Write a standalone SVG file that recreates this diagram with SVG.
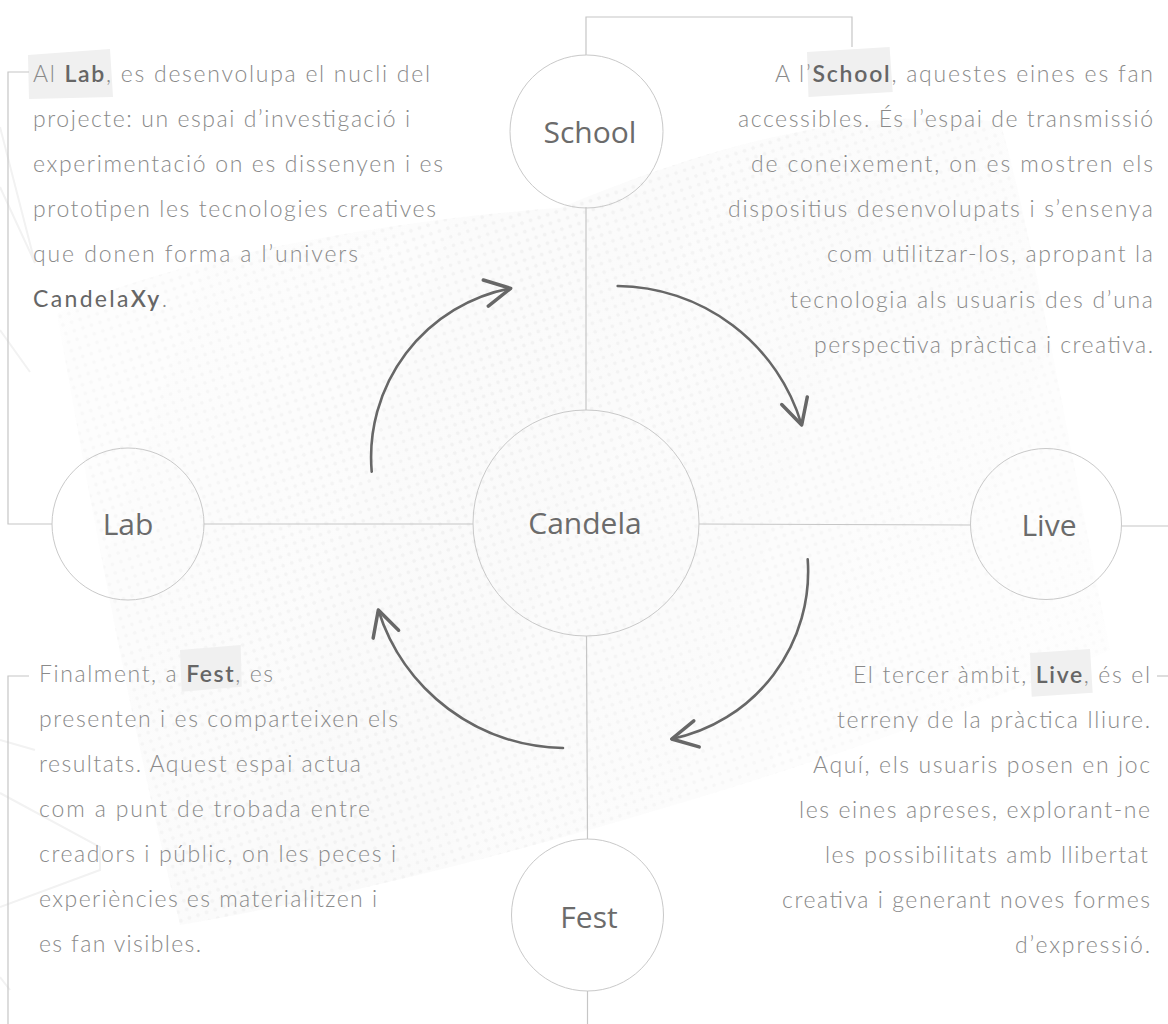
<svg xmlns="http://www.w3.org/2000/svg" width="1168" height="1024" viewBox="0 0 1168 1024">
<defs>
<style>
.body{font-family:"Lato","Open Sans","Liberation Sans",sans-serif;font-weight:300;font-size:23px;fill:#8a8a8a}
.kw{font-weight:600;fill:#666}
.dk{fill:#666;font-weight:400}
.node circle{fill:none;stroke:#c9c9c9;stroke-width:1}
.node text{font-family:"Open Sans","Liberation Sans",sans-serif;font-size:30px;fill:#6b6b6b;text-anchor:middle}
.conn{fill:none;stroke:#c6c6c6;stroke-width:1.2}
.arr{fill:none;stroke:#676767;stroke-width:2.6;stroke-linecap:round}
.hl{fill:#f0f0f0}
.deco{fill:none;stroke:#f2f2f2;stroke-width:2}
</style>
<pattern id="dots" width="9" height="9" patternUnits="userSpaceOnUse" patternTransform="rotate(-18)">
<circle cx="4.5" cy="4.5" r="1.9" fill="#eeeeee"/>
</pattern>
<linearGradient id="bg" x1="0" y1="0" x2="1" y2="1">
<stop offset="0" stop-color="#fcfcfc"/>
<stop offset="0.6" stop-color="#fafafa"/>
<stop offset="1" stop-color="#fdfdfd"/>
</linearGradient>
<linearGradient id="fade" x1="0" y1="0" x2="1" y2="0.3">
<stop offset="0" stop-color="#fff" stop-opacity="0.3"/>
<stop offset="0.5" stop-color="#fff" stop-opacity="1"/>
<stop offset="1" stop-color="#fff" stop-opacity="0.4"/>
</linearGradient>
<mask id="m">
<rect width="1168" height="1024" fill="url(#fade)"/>
</mask>
<marker id="ah" markerUnits="userSpaceOnUse" markerWidth="40" markerHeight="40" viewBox="-25 -15 30 30" refX="0" refY="0" orient="auto" overflow="visible">
<path d="M-19,-10 L0,0 L-19,10" fill="none" stroke="#676767" stroke-width="2.6" stroke-linecap="round" stroke-linejoin="round"/>
</marker>
</defs>
<rect width="1168" height="1024" fill="#ffffff"/>
<g id="background" mask="url(#m)">
<path d="M57 314 C150 262 400 218 560 208 C700 150 850 104 1000 122 C1030 220 1080 500 1110 650 C900 742 500 870 180 925 C130 720 90 500 57 314 Z" fill="url(#bg)"/>
<path d="M57 314 C150 262 400 218 560 208 C700 150 850 104 1000 122 C1030 220 1080 500 1110 650 C900 742 500 870 180 925 C130 720 90 500 57 314 Z" fill="url(#dots)" opacity="0.7"/>
</g>
<g id="decoration">
<polyline class="deco" points="0,127 35,263 0,187"/>
<polyline class="deco" points="0,330 30,372"/>
<polyline class="deco" points="0,740 35,750"/>
<polyline class="deco" points="0,793 100,847 100,870 0,907"/>
<polyline class="deco" points="0,977 10,990"/>
</g>
<g id="highlights">
<polygon class="hl" points="28,55 110,49 113,97 29,99"/>
<polygon class="hl" points="807,52 889.6,47 892.7,92 808.5,97"/>
<polygon class="hl" points="180,650 240.7,645 241.7,686.7 181.7,691.7"/>
<polygon class="hl" points="1030,653 1090,649 1092.7,692.7 1031.7,696.7"/>
</g>
<g id="connectors">
<line class="conn" x1="204" y1="524" x2="473" y2="524"/>
<line class="conn" x1="699" y1="524" x2="970.5" y2="525"/>
<line class="conn" x1="586" y1="207" x2="586" y2="410"/>
<line class="conn" x1="586.5" y1="636" x2="587.5" y2="839"/>
<line class="conn" x1="587.5" y1="991" x2="587.5" y2="1024"/>
<polyline class="conn" points="586,55 586,17 852,17 852,47"/>
<polyline class="conn" points="29,72 8,72 8,524 52,524"/>
<polyline class="conn" points="29,676 8,676 8,1024"/>
<line class="conn" x1="1121.5" y1="526" x2="1168" y2="526"/>
<line class="conn" x1="1157" y1="676" x2="1168" y2="676"/>
<path class="arr" d="M371.7 471.7 A172 172 0 0 1 510.7 288.3" marker-end="url(#ah)"/>
<path class="arr" d="M617.7 286 A194 194 0 0 1 801.7 425" marker-end="url(#ah)"/>
<path class="arr" d="M807.7 559.3 A171 171 0 0 1 671.7 739" marker-end="url(#ah)"/>
<path class="arr" d="M563 748 A197 197 0 0 1 378.3 610" marker-end="url(#ah)"/>
</g>
<g id="node-candela" class="node">
<circle cx="586" cy="523" r="113"/>
<text x="585" y="534" font-size="33">Candela</text>
</g>
<g id="node-school" class="node">
<circle cx="586.5" cy="131.5" r="76.5"/>
<text x="590" y="143">School</text>
</g>
<g id="node-lab" class="node">
<circle cx="128" cy="524" r="76"/>
<text x="128" y="535">Lab</text>
</g>
<g id="node-live" class="node">
<circle cx="1046" cy="524" r="75.5"/>
<text x="1049" y="536">Live</text>
</g>
<g id="node-fest" class="node">
<circle cx="587.5" cy="915" r="76"/>
<text x="589" y="928">Fest</text>
</g>
<g id="text-lab" class="body">
<text x="33" y="82" textLength="397" lengthAdjust="spacing">Al <tspan class="kw">Lab</tspan>, es desenvolupa el nucli del</text>
<text x="33" y="127" textLength="377" lengthAdjust="spacing">projecte: un espai d’investigació i</text>
<text x="33" y="172" textLength="410" lengthAdjust="spacing">experimentació on es dissenyen i es</text>
<text x="33" y="217" textLength="403" lengthAdjust="spacing">prototipen les tecnologies creatives</text>
<text x="33" y="262" textLength="325" lengthAdjust="spacing">que donen forma a l’univers</text>
<text x="33" y="307" textLength="134" lengthAdjust="spacing"><tspan class="dk">Candela</tspan><tspan class="kw">Xy</tspan>.</text>
</g>
<g id="text-school" class="body">
<text x="775" y="82" textLength="378" lengthAdjust="spacing">A l’<tspan class="kw">School</tspan>, aquestes eines es fan</text>
<text x="738" y="127" textLength="415" lengthAdjust="spacing">accessibles. És l’espai de transmissió</text>
<text x="751" y="172" textLength="402" lengthAdjust="spacing">de coneixement, on es mostren els</text>
<text x="728" y="217" textLength="425" lengthAdjust="spacing">dispositius desenvolupats i s’ensenya</text>
<text x="827" y="262" textLength="326" lengthAdjust="spacing">com utilitzar-los, apropant la</text>
<text x="790" y="308" textLength="363" lengthAdjust="spacing">tecnologia als usuaris des d’una</text>
<text x="814" y="353" textLength="339" lengthAdjust="spacing">perspectiva pràctica i creativa.</text>
</g>
<g id="text-fest" class="body">
<text x="39" y="682" textLength="234" lengthAdjust="spacing">Finalment, a <tspan class="kw">Fest</tspan>, es</text>
<text x="39" y="727" textLength="359" lengthAdjust="spacing">presenten i es comparteixen els</text>
<text x="39" y="772" textLength="322" lengthAdjust="spacing">resultats. Aquest espai actua</text>
<text x="39" y="817" textLength="331" lengthAdjust="spacing">com a punt de trobada entre</text>
<text x="39" y="862" textLength="357" lengthAdjust="spacing">creadors i públic, on les peces i</text>
<text x="39" y="907" textLength="338" lengthAdjust="spacing">experiències es materialitzen i</text>
<text x="39" y="952" textLength="162" lengthAdjust="spacing">es fan visibles.</text>
</g>
<g id="text-live" class="body">
<text x="853" y="683" textLength="297" lengthAdjust="spacing">El tercer àmbit, <tspan class="kw">Live</tspan>, és el</text>
<text x="837" y="728" textLength="313" lengthAdjust="spacing">terreny de la pràctica lliure.</text>
<text x="813" y="773" textLength="337" lengthAdjust="spacing">Aquí, els usuaris posen en joc</text>
<text x="799" y="818" textLength="351" lengthAdjust="spacing">les eines apreses, explorant-ne</text>
<text x="825" y="863" textLength="323" lengthAdjust="spacing">les possibilitats amb llibertat</text>
<text x="782" y="908" textLength="368" lengthAdjust="spacing">creativa i generant noves formes</text>
<text x="1015" y="953" textLength="135" lengthAdjust="spacing">d’expressió.</text>
</g>
</svg>
